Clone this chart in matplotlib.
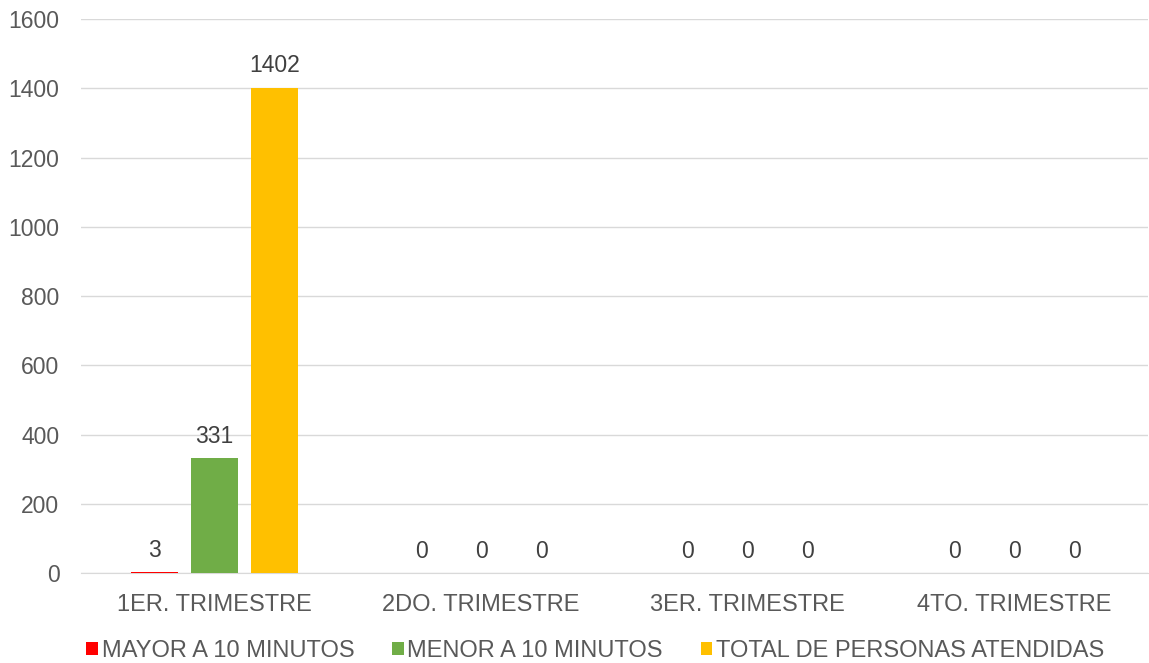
import numpy as np
import matplotlib
matplotlib.use('Agg')
import matplotlib.pyplot as plt

categories = ['1ER. TRIMESTRE', '2DO. TRIMESTRE', '3ER. TRIMESTRE', '4TO. TRIMESTRE']
series_names = ['MAYOR A 10 MINUTOS', 'MENOR A 10 MINUTOS', 'TOTAL DE PERSONAS ATENDIDAS']
mayor = [3, 0, 0, 0]
menor = [331, 0, 0, 0]
total = [1402, 0, 0, 0]
colors = ['#ff0000', '#70ad47', '#ffc000']

plt.rcParams['font.family'] = ['Liberation Sans', 'DejaVu Sans']
text_color = '#595959'

fig = plt.figure(figsize=(11.49, 6.63), dpi=100)
ax = fig.add_axes([0.0705, 0.1357, 0.9285, 0.8356])

x = np.arange(len(categories))
width = 0.176
step = 0.225

for i, (vals, name, c) in enumerate(zip([mayor, menor, total], series_names, colors)):
    pos = x + (i - 1) * step
    bars = ax.bar(pos, vals, width, color=c, label=name, zorder=3)
    for b, v in zip(bars, vals):
        ax.text(b.get_x() + b.get_width() / 2, v + 30, str(v), ha='center', va='bottom',
                fontsize=16.5, color='#404040')

ax.set_xlim(-0.5, 3.5)
ax.set_ylim(0, 1600)
ax.set_yticks(range(0, 1601, 200))
ax.set_xticks(x)
ax.set_xticklabels(categories)
ax.tick_params(axis='y', length=0, labelsize=16.5, labelcolor=text_color, pad=15.5)
ax.tick_params(axis='x', length=0, labelsize=17, labelcolor=text_color, pad=15)
ax.grid(axis='y', color='#d9d9d9', linewidth=1, zorder=0)
for s in ['top', 'right', 'left']:
    ax.spines[s].set_visible(False)
ax.spines['bottom'].set_color('#d9d9d9')

leg = fig.legend(loc='lower center', bbox_to_anchor=(0.518, -0.03), ncol=3, frameon=False,
                 fontsize=17, handlelength=0.5, handleheight=0.5, handletextpad=0.15,
                 columnspacing=1.6)
for t in leg.get_texts():
    t.set_color(text_color)

fig.savefig('out.png', dpi=100)
